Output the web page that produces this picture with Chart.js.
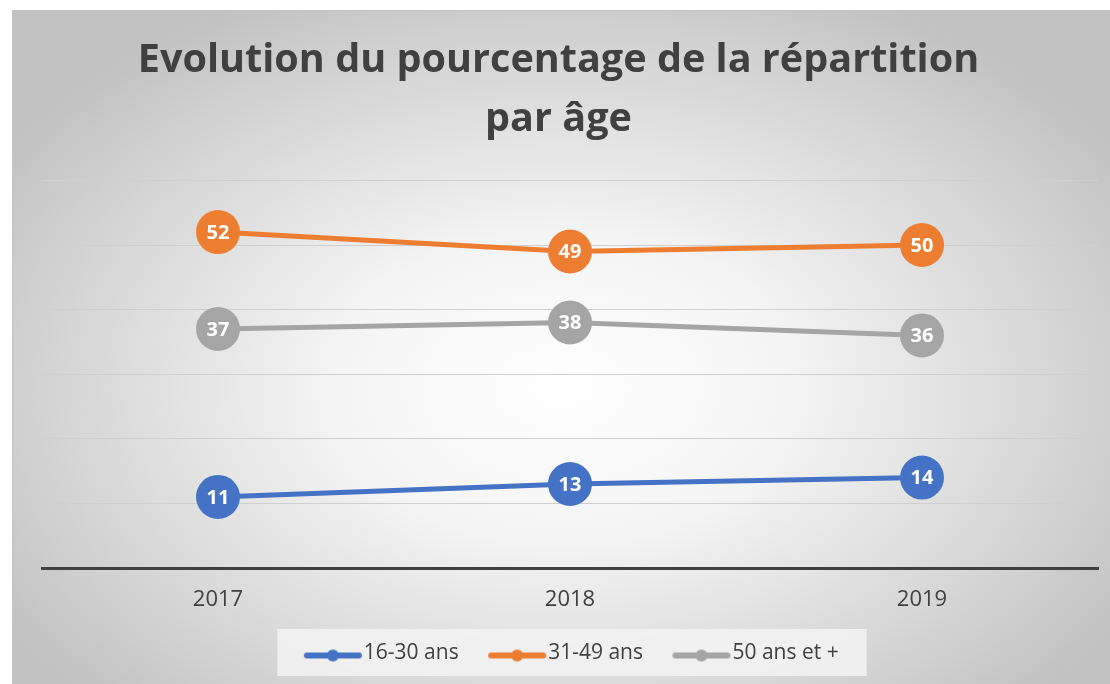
<!DOCTYPE html>
<html>
<head>
<meta charset="utf-8">
<script src="https://cdn.jsdelivr.net/npm/chart.js@4.4.1/dist/chart.umd.min.js"></script>
<style>
  html, body { margin: 0; padding: 0; background: #fff; }
  #cadre {
    position: absolute; left: 12px; top: 10px; width: 1098px; height: 674px;
    box-sizing: border-box; border-top: 1px solid #c4c4c4; border-left: 1px solid #c4c4c4;
    background: radial-gradient(ellipse 60% 65% at 50% 56%, #ffffff 0%, #f4f4f4 35%, #d6d6d6 75%, #c2c2c2 100%);
  }
</style>
</head>
<body>
<div id="cadre"><canvas id="graphique"></canvas></div>
<script>
const annees = ['2017', '2018', '2019'];
const jeunes = [11, 13, 14];
const moyens = [52, 49, 50];
const seniors = [37, 38, 36];
const noms = ['16-30 ans', '31-49 ans', '50 ans et +'];
const couleurs = ['#4472C4', '#ED7D31', '#A5A5A5'];

const decalageLegende = 3;

// petit dessin ligne + point pour la legende (trait a droite de l'image)
const iconeLegende = (couleur) => {
    const c = document.createElement('canvas');
    c.width = 90; c.height = 18;
    const ctx = c.getContext('2d');
    ctx.strokeStyle = couleur;
    ctx.lineWidth = 6;
    ctx.lineCap = 'round';
    ctx.beginPath(); ctx.moveTo(33, 11); ctx.lineTo(85, 11); ctx.stroke();
    ctx.fillStyle = couleur;
    ctx.beginPath(); ctx.arc(59, 11, 6, 0, Math.PI * 2); ctx.fill();
    return c;
};

// etiquettes blanches dans les points
const etiquettes = {
    id: 'etiquettes',
    afterDatasetsDraw(chart) {
        const ctx = chart.ctx;
        ctx.save();
        ctx.font = 'bold 20px "Open Sans"';
        ctx.fillStyle = '#ffffff';
        ctx.textAlign = 'center';
        ctx.textBaseline = 'middle';
        chart.data.datasets.forEach((ds, i) => {
            chart.getDatasetMeta(i).data.forEach((pt, j) => {
                ctx.fillText(ds.data[j], pt.x, pt.y + 1);
            });
        });
        ctx.restore();
    }
};

// legende un peu decalee + fond clair derriere
const fondLegende = {
    id: 'fondLegende',
    afterLayout(chart) {
        chart.legend.left += decalageLegende;
        chart.legend.right += decalageLegende;
    },
    beforeDraw(chart) {
        const boites = chart.legend.legendHitBoxes;
        if (!boites || !boites.length) return;
        const g = Math.min(...boites.map(b => b.left)) + decalageLegende - 10;
        const d = Math.max(...boites.map(b => b.left + b.width)) + decalageLegende + 25;
        const h = Math.min(...boites.map(b => b.top)) - 14;
        const ctx = chart.ctx;
        ctx.save();
        ctx.fillStyle = 'rgba(242,242,242,0.9)';
        ctx.fillRect(g, h, d - g, 47);
        ctx.restore();
    }
};

const series = [jeunes, moyens, seniors].map((valeurs, i) => ({
    label: noms[i],
    data: valeurs,
    borderColor: couleurs[i],
    backgroundColor: couleurs[i],
    borderWidth: 5,
    pointRadius: 22,
    pointHoverRadius: 22,
    pointBorderWidth: 0,
    pointStyle: 'circle',
    tension: 0
}));
const icones = couleurs.map(iconeLegende);

new Chart(document.getElementById('graphique'), {
    type: 'line',
    data: { labels: annees, datasets: series },
    plugins: [fondLegende, etiquettes],
    options: {
        responsive: true,
        maintainAspectRatio: false,
        animation: false,
        layout: { autoPadding: false, padding: { left: 6, right: 12, top: 0, bottom: 10 } },
        plugins: {
            title: {
                display: true,
                text: ['Evolution du pourcentage de la répartition', 'par âge'],
                color: '#404040',
                font: { family: '"Open Sans"', size: 39.6, weight: 'bold', lineHeight: 1.5 },
                padding: { top: 20, bottom: 30.6 }
            },
            legend: {
                position: 'bottom',
                labels: {
                    color: '#404040',
                    font: { family: '"Open Sans"', size: 21 },
                    usePointStyle: true,
                    pointStyleWidth: 69,
                    padding: 10,
                    generateLabels: (chart) => chart.data.datasets.map((ds, i) => ({
                        text: ds.label,
                        pointStyle: icones[i],
                        fontColor: '#404040',
                        lineWidth: 0,
                        datasetIndex: i
                    }))
                }
            },
            tooltip: { enabled: false }
        },
        scales: {
            x: {
                offset: true,
                grid: { display: false },
                border: { display: true, color: '#404040', width: 3 },
                ticks: { color: '#404040', font: { family: '"Open Sans"', size: 22 }, padding: 11 },
                afterFit: (axe) => {
                    axe.height = 65;
                    axe.paddingLeft = 0;
                    axe.paddingRight = 0;
                }
            },
            y: {
                min: 0, max: 60,
                ticks: { display: false, stepSize: 10 },
                grid: { color: '#cfcfcf', lineWidth: 1, drawTicks: false },
                border: { display: false },
                afterFit: (axe) => { axe.width = 23; }
            }
        }
    }
});
</script>
</body>
</html>
